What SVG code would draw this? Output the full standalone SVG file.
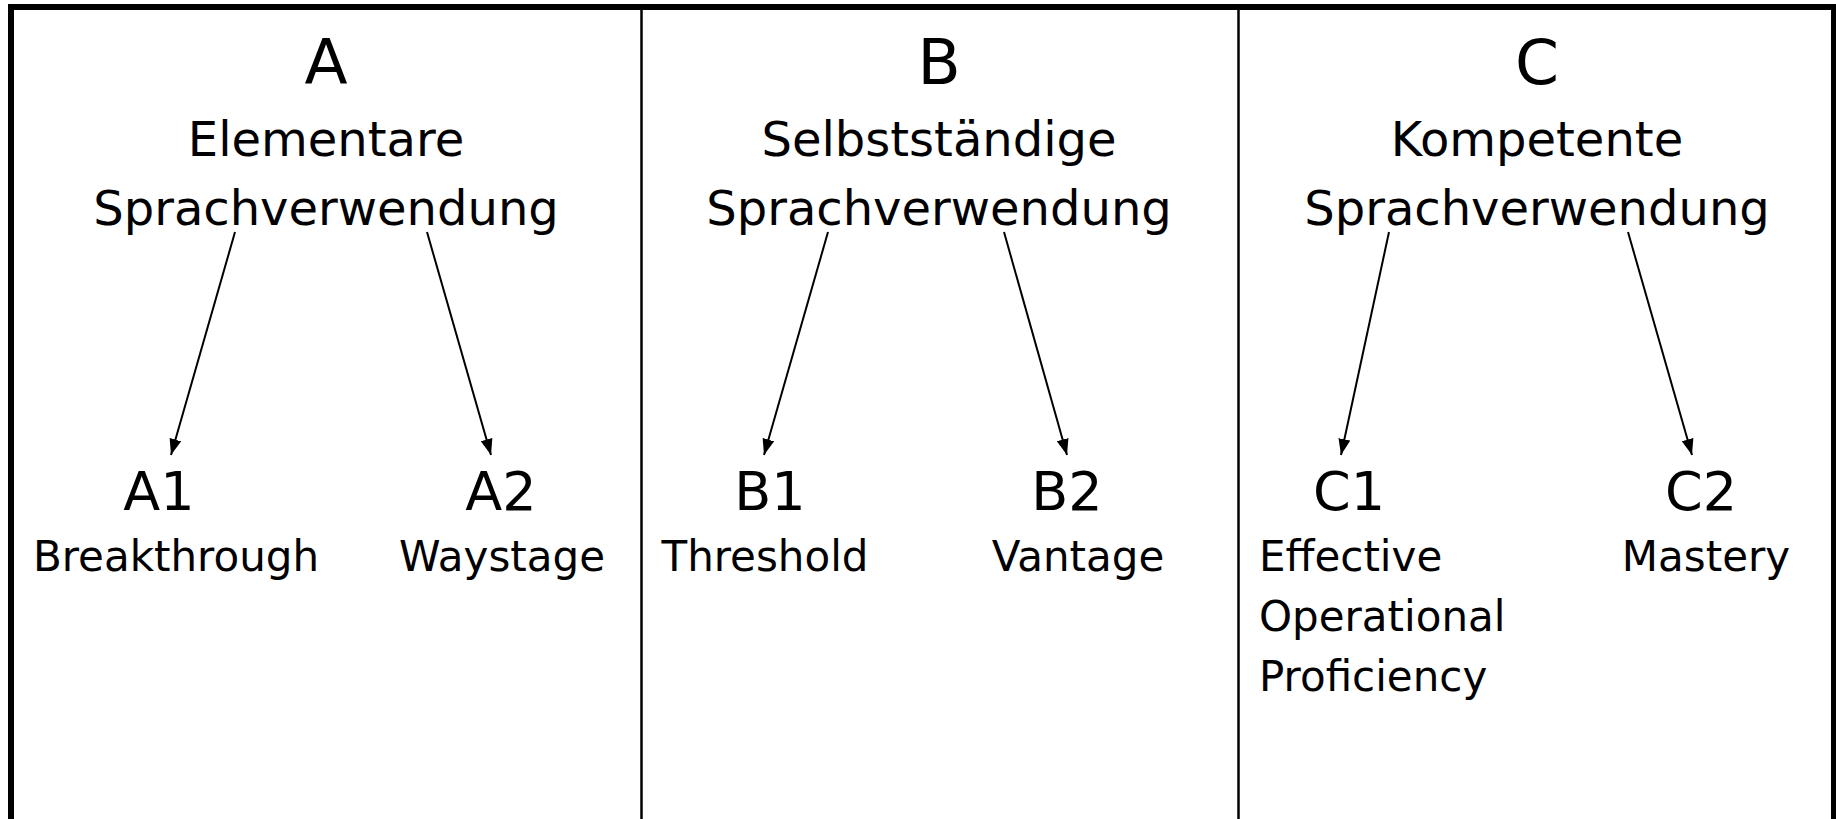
<svg xmlns="http://www.w3.org/2000/svg" width="1836" height="819" viewBox="0 0 1836 819">
  <defs>
    <marker id="arr" viewBox="0 0 16 12" refX="16" refY="6" markerWidth="16" markerHeight="12" markerUnits="userSpaceOnUse" orient="auto">
      <path d="M0,0 L16,6 L0,12 Z" fill="#000"/>
    </marker>
    <style>
      text { font-family: "DejaVu Sans", Verdana, sans-serif; fill: #000; }
      .big { font-size: 63px; text-anchor: middle; }
      .head { font-size: 48px; text-anchor: middle; }
      .lvl { font-size: 54px; text-anchor: middle; }
      .lab { font-size: 42px; text-anchor: middle; }
      .labl { font-size: 42px; text-anchor: start; }
      .conn line { stroke: #000; stroke-width: 2; marker-end: url(#arr); }
      .frame { fill: none; stroke: #000; }
    </style>
  </defs>
  <rect x="0" y="0" width="1836" height="819" fill="#fff"/>
  <g id="frame">
    <rect class="frame" x="11" y="7" width="1823" height="830" stroke-width="6"/>
    <line class="frame" x1="641.5" y1="7" x2="641.5" y2="819" stroke-width="2.5"/>
    <line class="frame" x1="1238.5" y1="7" x2="1238.5" y2="819" stroke-width="2.5"/>
  </g>
  <g id="nodeA">
    <text class="big" x="326" y="84">A</text>
    <text class="head" x="326" y="156">Elementare</text>
    <text class="head" x="326" y="225">Sprachverwendung</text>
  </g>
  <g id="nodeA1">
    <text class="lvl" x="159" y="510">A1</text>
    <text class="lab" x="176" y="571">Breakthrough</text>
  </g>
  <g id="nodeA2">
    <text class="lvl" x="501" y="510">A2</text>
    <text class="lab" x="502" y="571">Waystage</text>
  </g>
  <g id="nodeB">
    <text class="big" x="939" y="84">B</text>
    <text class="head" x="939" y="156">Selbstständige</text>
    <text class="head" x="939" y="225">Sprachverwendung</text>
  </g>
  <g id="nodeB1">
    <text class="lvl" x="770" y="510">B1</text>
    <text class="lab" x="765" y="571">Threshold</text>
  </g>
  <g id="nodeB2">
    <text class="lvl" x="1067" y="510">B2</text>
    <text class="lab" x="1078" y="571">Vantage</text>
  </g>
  <g id="nodeC">
    <text class="big" x="1537" y="84">C</text>
    <text class="head" x="1537" y="156">Kompetente</text>
    <text class="head" x="1537" y="225">Sprachverwendung</text>
  </g>
  <g id="nodeC1">
    <text class="lvl" x="1349" y="510">C1</text>
    <text class="labl" x="1259" y="571">Effective</text>
    <text class="labl" x="1259" y="631">Operational</text>
    <text class="labl" x="1259" y="691">Proficiency</text>
  </g>
  <g id="nodeC2">
    <text class="lvl" x="1701" y="510">C2</text>
    <text class="lab" x="1706" y="571">Mastery</text>
  </g>
  <g id="connectors" class="conn">
    <line x1="235" y1="232" x2="171" y2="455"/>
    <line x1="427" y1="232" x2="491" y2="455"/>
    <line x1="828" y1="232" x2="764" y2="455"/>
    <line x1="1004" y1="232" x2="1067" y2="455"/>
    <line x1="1389" y1="232" x2="1341" y2="455"/>
    <line x1="1628" y1="232" x2="1692" y2="455"/>
  </g>
</svg>
